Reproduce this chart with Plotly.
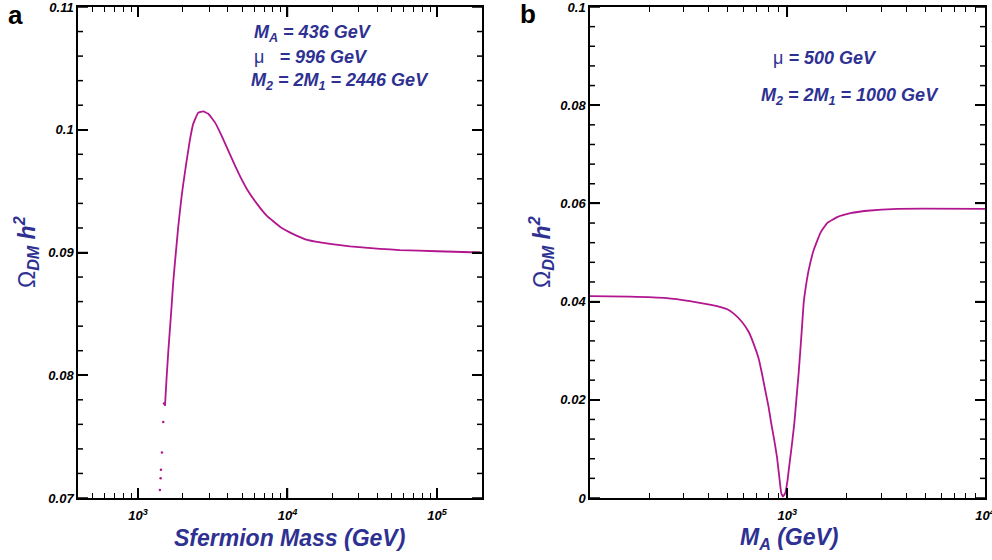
import plotly.graph_objects as go

# ---------------- data ----------------
# Panel a: relic density vs sfermion mass (GeV)
a_sparse_mass = [1403, 1418, 1425, 1447, 1476, 1493]
a_sparse_omega = [0.07065, 0.0716, 0.0723, 0.0737, 0.0762, 0.0777]

a_mass = [1516, 1556, 1595, 1637, 1680, 1722, 1768, 1815, 1860, 1910, 1960, 2009,
          2118, 2227, 2344, 2531, 2734, 2953, 3274, 3630, 4125, 4689, 5335, 6223,
          7261, 8908, 10935, 13775, 19250, 26190, 41560, 56560, 100000, 193900]
a_omega = [0.0775, 0.0799, 0.0819, 0.0838, 0.0857, 0.0876, 0.0892, 0.0907, 0.0921,
           0.0934, 0.0946, 0.0956, 0.0975, 0.0992, 0.1005, 0.1014, 0.1015, 0.1013,
           0.1006, 0.0995, 0.0980, 0.0965, 0.0952, 0.0940, 0.0930, 0.0921, 0.0915,
           0.0910, 0.0907, 0.0905, 0.0903, 0.0902, 0.0901, 0.0900]

# Panel b: relic density vs M_A (GeV)
b_ma = [100, 159.6, 245.1, 321.8, 391.2, 450, 494.1, 534.0, 588.9, 636.3, 674.5,
        715.1, 743.9, 773.2, 803.7, 829.5, 859.0, 886.6, 910.8, 932.2, 951.0, 976.8,
        1003.5, 1027.2, 1056.6, 1085.3, 1111.0, 1141.3, 1164.1, 1187.4, 1209.7,
        1234.2, 1282.6, 1359.8, 1470.6, 1590.6, 1788.3, 2088.5, 2539, 3605, 10000]
b_omega = [0.0411, 0.0410, 0.0407, 0.0401, 0.0395, 0.0390, 0.0385, 0.0376, 0.0359,
           0.0339, 0.0315, 0.0285, 0.0254, 0.0220, 0.0186, 0.0152, 0.0118, 0.0084,
           0.0043, 0.0010, 0.0003, 0.0010, 0.0037, 0.0071, 0.0111, 0.0152, 0.0200,
           0.0254, 0.0301, 0.0349, 0.0397, 0.0424, 0.0464, 0.0505, 0.0540, 0.0560,
           0.0572, 0.0580, 0.0585, 0.0589, 0.0589]

# tick values / labels
a_yticks = [0.07, 0.08, 0.09, 0.10, 0.11]
a_yticktext = ["0.07", "0.08", "0.09", "0.1", "0.11"]
a_yminor = [0.072, 0.074, 0.076, 0.078, 0.082, 0.084, 0.086, 0.088,
            0.092, 0.094, 0.096, 0.098, 0.102, 0.104, 0.106, 0.108]
b_yticks = [0, 0.02, 0.04, 0.06, 0.08, 0.10]
b_yticktext = ["0", "0.02", "0.04", "0.06", "0.08", "0.1"]
b_yminor = [0.004, 0.008, 0.012, 0.016, 0.024, 0.028, 0.032, 0.036,
            0.044, 0.048, 0.052, 0.056, 0.064, 0.068, 0.072, 0.076,
            0.084, 0.088, 0.092, 0.096]
a_xticks = [1e3, 1e4, 1e5]
a_xticktext = ["10<sup>3</sup>", "10<sup>4</sup>", "10<sup>5</sup>"]
b_xticks = [1e3, 1e4]
b_xticktext = ["10<sup>3</sup>", "10<sup>4</sup>"]

# ---------------- style ----------------
W, H = 992, 560
CURVE = "#b2168f"
BLUE = "#2e3192"
FONT = "Liberation Sans, Arial, sans-serif"
A_LEFT, A_RIGHT, B_LEFT, B_RIGHT, TOP, BOTTOM = 78, 482, 590, 985, 7, 498
MAJOR_LEN, MINOR_LEN = 10, 5

def px(x):
    return x / W

def py(y):
    return 1 - y / H

def bi(labels):
    return ["<b><i>" + t + "</i></b>" for t in labels]

fig = go.Figure()
fig.add_trace(go.Scatter(x=a_sparse_mass, y=a_sparse_omega, mode="markers",
                         marker=dict(color=CURVE, size=2.5), xaxis="x", yaxis="y",
                         showlegend=False))
fig.add_trace(go.Scatter(x=a_mass, y=a_omega, mode="lines",
                         line=dict(color=CURVE, width=1.8, shape="spline", smoothing=0.3),
                         xaxis="x", yaxis="y", showlegend=False))
fig.add_trace(go.Scatter(x=b_ma, y=b_omega, mode="lines",
                         line=dict(color=CURVE, width=1.8, shape="spline", smoothing=0.3),
                         xaxis="x2", yaxis="y2", showlegend=False))

tickfont = dict(family=FONT, size=13, color="black")

base = dict(showline=True, linecolor="black", linewidth=1.5, mirror="allticks",
            ticks="inside", ticklen=MAJOR_LEN, tickwidth=1.5, tickcolor="black",
            showgrid=False, zeroline=False, automargin=False, tickfont=tickfont,
            ticklabeloverflow="allow")

minor_log = dict(ticks="inside", ticklen=MINOR_LEN, tickcolor="black", tickwidth=1.2,
                 dtick="D1", showgrid=False)

fig.update_layout(
    template="none",
    width=W, height=H,
    margin=dict(l=0, r=0, t=0, b=0, autoexpand=False),
    paper_bgcolor="white", plot_bgcolor="white",
    font=dict(family=FONT),
    showlegend=False,
    xaxis=dict(base, type="log", domain=[px(A_LEFT), px(A_RIGHT)],
               range=[2.599, 5.301], anchor="y", tickmode="array",
               tickvals=a_xticks, ticktext=bi(a_xticktext), ticklabelstandoff=5,
               minor=minor_log),
    yaxis=dict(base, domain=[py(BOTTOM), py(TOP)], range=[0.07, 0.11], anchor="x",
               tickmode="array", tickvals=a_yticks, ticktext=bi(a_yticktext)),
    xaxis2=dict(base, type="log", domain=[px(B_LEFT), px(B_RIGHT)],
                range=[2.002, 4.0001], anchor="y2", tickmode="array",
                tickvals=b_xticks, ticktext=bi(b_xticktext), ticklabelstandoff=5,
                minor=minor_log),
    yaxis2=dict(base, domain=[py(BOTTOM), py(TOP)], range=[0, 0.100001], anchor="x2",
                tickmode="array", tickvals=b_yticks, ticktext=bi(b_yticktext)),
)

# inward tick marks on the y axes (both sides), placed at the tick values
shapes = []
tick_line = dict(color="black", width=1.5)

def y_ticks(vals, left, right, ydat, length):
    for v in vals:
        shapes.append(dict(type="line", xref="paper", yref=ydat,
                           x0=px(left), x1=px(left + length), y0=v, y1=v,
                           line=tick_line, layer="above"))
        shapes.append(dict(type="line", xref="paper", yref=ydat,
                           x0=px(right - length), x1=px(right), y0=v, y1=v,
                           line=tick_line, layer="above"))

def x_ticks(vals, xdat, length):
    for v in vals:
        shapes.append(dict(type="line", xref=xdat, yref="paper", x0=v, x1=v,
                           y0=py(BOTTOM), y1=py(BOTTOM - length),
                           line=tick_line, layer="above"))
        shapes.append(dict(type="line", xref=xdat, yref="paper", x0=v, x1=v,
                           y0=py(TOP + length), y1=py(TOP),
                           line=tick_line, layer="above"))

y_ticks(a_yticks, A_LEFT, A_RIGHT, "y", MAJOR_LEN)
y_ticks(a_yminor, A_LEFT, A_RIGHT, "y", MINOR_LEN)
y_ticks(b_yticks, B_LEFT, B_RIGHT, "y2", MAJOR_LEN)
y_ticks(b_yminor, B_LEFT, B_RIGHT, "y2", MINOR_LEN)
x_ticks(a_xticks, "x", MAJOR_LEN)
x_ticks(b_xticks[:1], "x2", MAJOR_LEN)

ann_font = dict(family=FONT, size=18, color=BLUE, style="italic", weight="bold")
mu = "<span style='font-style:normal;font-weight:normal'>μ</span>"
omega_title = ("<span style='font-style:normal;font-weight:normal'>Ω</span>"
               "<sub>DM</sub> h<sup>2</sup>")

annotations = [
    dict(x=px(15), y=py(15), text="<b>a</b>",
         font=dict(family=FONT, size=26, color="black")),
    dict(x=px(528), y=py(14), text="<b>b</b>",
         font=dict(family=FONT, size=26, color="black")),
    dict(x=px(252), y=py(33), text="M<sub>A</sub> = 436 GeV", xanchor="left", font=ann_font),
    dict(x=px(252), y=py(57), text=mu + "   = 996 GeV", xanchor="left", font=ann_font),
    dict(x=px(249), y=py(81), text="M<sub>2</sub> = 2M<sub>1</sub> = 2446 GeV",
         xanchor="left", font=ann_font),
    dict(x=px(771), y=py(58), text=mu + " = 500 GeV", xanchor="left", font=ann_font),
    dict(x=px(759), y=py(96), text="M<sub>2</sub> = 2M<sub>1</sub> = 1000 GeV",
         xanchor="left", font=ann_font),
    dict(x=px(289), y=py(538), text="Sfermion Mass (GeV)",
         font=dict(family=FONT, size=23, color=BLUE, style="italic", weight="bold")),
    dict(x=px(789), y=py(538), text="M<sub>A</sub> (GeV)",
         font=dict(family=FONT, size=23, color=BLUE, style="italic", weight="bold")),
    dict(x=px(26), y=py(252), text=omega_title, textangle=-90,
         font=dict(family=FONT, size=23, color=BLUE, style="italic", weight="bold")),
    dict(x=px(541), y=py(252), text=omega_title, textangle=-90,
         font=dict(family=FONT, size=23, color=BLUE, style="italic", weight="bold")),
]
for a in annotations:
    a.update(xref="paper", yref="paper", showarrow=False)
    a.setdefault("xanchor", "center")
    a.setdefault("yanchor", "middle")
fig.update_layout(annotations=annotations, shapes=shapes)

fig.write_html("out.html")
